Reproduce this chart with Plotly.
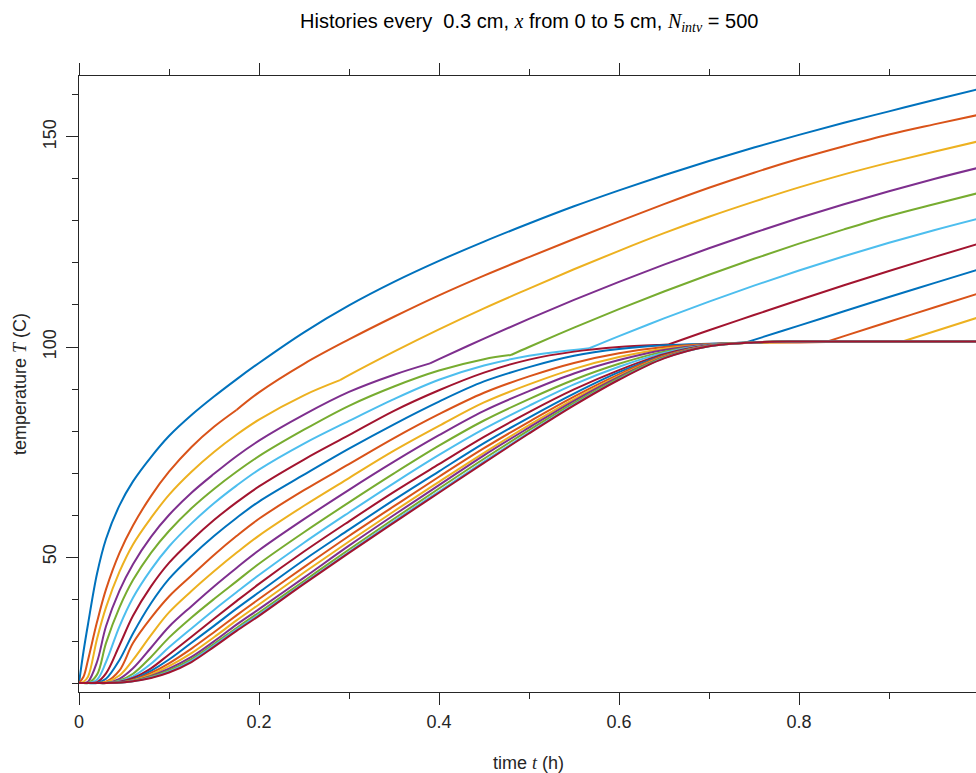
import plotly.graph_objects as go

# common time grid (h)
TIME = [0, 0.005, 0.01, 0.02, 0.03, 0.045, 0.06, 0.08, 0.1, 0.125, 0.15, 0.175, 0.2,
        0.25, 0.3, 0.35, 0.4, 0.45, 0.5, 0.55, 0.6, 0.65, 0.7, 0.75, 0.8,
        0.85, 0.9, 0.95, 1.0]

# temperature histories (C) at depths x = 0, 0.25, ..., 5 cm
T01 = [20, 27.5, 34, 46, 54.3, 62.3, 68, 73.8, 78.8, 83.8, 88.2, 92.3, 96.2, 103.5, 109.9, 115.5, 120.5, 125.1, 129.4, 133.5, 137.3, 140.9, 144.3, 147.5, 150.5, 153.4, 156.1, 158.8, 161.4]
T02 = [20, 21.5, 25.5, 34.5, 42.3, 51, 57.5, 64.5, 70.3, 76.2, 81.0, 85.0, 89.2, 96.0, 101.8, 107.2, 112.3, 117.0, 121.4, 125.7, 129.9, 134.0, 137.9, 141.5, 144.8, 147.8, 150.6, 153.0, 155.3]
T03 = [20, 20.3, 21.5, 30.5, 38.0, 46.5, 53.0, 59.3, 64.8, 70.3, 75.0, 79.1, 82.7, 88.5, 93.3, 98.9, 104.2, 109.2, 113.9, 118.5, 122.9, 127.1, 131.0, 134.6, 138.0, 141.1, 143.9, 146.5, 149.0]
T04 = [20, 20, 20.3, 25.0, 33.5, 42.0, 48.3, 54.8, 60.0, 65.3, 69.8, 74.0, 77.7, 83.9, 89.3, 93.4, 97.1, 102.0, 106.7, 111.2, 115.5, 119.6, 123.5, 127.2, 130.7, 134.0, 137.1, 140.0, 142.7]
T05 = [20, 20, 20, 22.0, 29.5, 38.0, 44.5, 51.0, 56.2, 61.6, 66.2, 70.3, 74.0, 80.3, 86, 90.6, 94.4, 97.1, 100.0, 104.6, 109.0, 113.2, 117.2, 121.0, 124.6, 128.0, 131.2, 134.0, 136.7]
T06 = [20, 20, 20, 20.8, 25.0, 33.5, 40.3, 47.0, 52.5, 58.0, 62.8, 67.0, 70.8, 77.0, 82.4, 87.6, 92.2, 95.6, 97.9, 99.3, 102.6, 106.8, 110.8, 114.6, 118.2, 121.6, 124.8, 127.8, 130.6]
T07 = [20, 20, 20, 20.2, 22.3, 29.0, 36.0, 43.0, 48.6, 54.0, 58.8, 63.0, 66.8, 73.2, 79.0, 84.8, 89.7, 93.9, 97.0, 98.9, 100.0, 100.55, 104.0, 107.6, 111.2, 114.7, 118.1, 121.4, 124.6]
T08 = [20, 20, 20, 20, 21.0, 25.5, 31.8, 39.0, 44.8, 50.2, 55.0, 59.3, 63.2, 69.6, 75.8, 81.6, 87.0, 91.8, 95.2, 97.9, 99.5, 100.4, 100.8, 101.7, 105.1, 108.5, 111.9, 115.2, 118.5]
T09 = [20, 20, 20, 20, 20.3, 23.0, 29.5, 35.5, 40.6, 45.6, 50.5, 55.0, 59.1, 65.9, 72.1, 78.3, 84.0, 89.1, 93.0, 96.2, 98.5, 100.0, 100.7, 101.0, 101.1, 102.6, 106.0, 109.4, 112.8]
T10 = [20, 20, 20, 20, 20.2, 21.8, 25.5, 31.4, 36.8, 41.9, 46.6, 51.0, 55.1, 62.2, 68.8, 75.3, 81.2, 86.8, 91.1, 94.8, 97.6, 99.6, 100.6, 101.0, 101.2, 101.3, 101.3, 103.7, 107.1]
T11 = [20, 20, 20, 20, 20, 21.0, 23.5, 28.4, 33.4, 38.3, 43.0, 47.4, 51.6, 59.0, 66.0, 72.7, 79.0, 84.8, 89.5, 93.7, 96.9, 99.3, 100.6, 101.1, 101.3, 101.3, 101.3, 101.3, 101.3]
T12 = [20, 20, 20, 20, 20, 20.6, 22.2, 26.2, 30.8, 35.6, 40.0, 44.2, 48.4, 55.9, 63.0, 69.9, 76.5, 82.5, 87.6, 92.2, 96.0, 98.9, 100.5, 101.1, 101.3, 101.3, 101.3, 101.3, 101.3]
T13 = [20, 20, 20, 20, 20, 20.4, 21.6, 24.6, 28.5, 33.0, 37.4, 41.6, 45.7, 53.4, 60.6, 67.6, 74.3, 80.5, 86.0, 91.1, 95.3, 98.6, 100.45, 101.1, 101.3, 101.3, 101.3, 101.3, 101.3]
T14 = [20, 20, 20, 20, 20, 20.3, 21.2, 23.5, 26.8, 31.0, 35.3, 39.5, 43.6, 51.3, 58.5, 65.5, 72.1, 78.6, 84.5, 89.9, 94.5, 98.3, 100.4, 101.1, 101.3, 101.3, 101.3, 101.3, 101.3]
T15 = [20, 20, 20, 20, 20, 20.2, 20.8, 22.9, 25.6, 29.6, 33.6, 37.7, 41.6, 49.3, 56.5, 63.6, 70.4, 77.1, 83.2, 88.9, 94.0, 98.0, 100.35, 101.1, 101.3, 101.3, 101.3, 101.3, 101.3]
T16 = [20, 20, 20, 20, 20, 20.1, 20.7, 22.4, 24.7, 28.2, 32.1, 36.1, 40.0, 47.6, 55.0, 62.1, 69.1, 75.9, 82.2, 88.2, 93.5, 97.9, 100.3, 101.1, 101.3, 101.3, 101.3, 101.3, 101.3]
T17 = [20, 20, 20, 20, 20, 20.1, 20.6, 22.0, 24.0, 27.1, 30.9, 34.9, 38.7, 46.3, 53.7, 60.9, 67.9, 74.8, 81.4, 87.6, 93.1, 97.7, 100.3, 101.1, 101.3, 101.3, 101.3, 101.3, 101.3]
T18 = [20, 20, 20, 20, 20, 20.1, 20.5, 21.7, 23.4, 26.2, 29.9, 33.9, 37.6, 45.1, 52.7, 60.0, 67.1, 74.2, 80.8, 87.2, 92.9, 97.6, 100.25, 101.1, 101.3, 101.3, 101.3, 101.3, 101.3]
T19 = [20, 20, 20, 20, 20, 20.1, 20.5, 21.5, 23.0, 25.7, 29.3, 33.1, 36.8, 44.3, 51.8, 59.1, 66.3, 73.4, 80.2, 86.7, 92.6, 97.5, 100.2, 101.1, 101.3, 101.3, 101.3, 101.3, 101.3]
T20 = [20, 20, 20, 20, 20, 20.1, 20.4, 21.3, 22.7, 25.3, 28.9, 32.7, 36.3, 43.8, 51.2, 58.5, 65.6, 72.7, 79.6, 86.3, 92.3, 97.35, 100.2, 101.1, 101.3, 101.3, 101.3, 101.3, 101.3]
T21 = [20, 20, 20, 20, 20, 20.1, 20.4, 21.2, 22.5, 25.0, 28.6, 32.4, 36.0, 43.6, 51.0, 58.2, 65.3, 72.4, 79.4, 86.1, 92.2, 97.3, 100.2, 101.1, 101.3, 101.3, 101.3, 101.3, 101.3]

HISTORIES = [T01, T02, T03, T04, T05, T06, T07, T08, T09, T10, T11,
             T12, T13, T14, T15, T16, T17, T18, T19, T20, T21]

# drying-front kinks (time h, temperature C); None = no kink before t = 1
KINK_TIME = [None, 0.175, 0.29, 0.39, 0.48, 0.567, 0.655, 0.74, 0.83, 0.915,
             None, None, None, None, None, None, None, None, None, None, None]
KINK_TEMP = [None, 85.0, 92.1, 96.1, 98.1, 99.7, 100.6, 101.0, 101.2, 101.3,
             None, None, None, None, None, None, None, None, None, None, None]

COLORS = ["#0072BD", "#D95319", "#EDB120", "#7E2F8E", "#77AC30", "#4DBEEE", "#A2142F"]

X_RANGE = [0, 0.99667]
Y_RANGE = [17.86, 164.52]

SERIF = "font-family:'Liberation Serif','Times New Roman',serif"
TITLE = ("Histories every\u00a0\u00a00.3 cm, "
         f"<span style=\"{SERIF}\"><i>x</i></span> from 0 to 5 cm, "
         f"<span style=\"{SERIF}\"><i>N</i><sub><i>intv</i></sub></span> = 500")
XLABEL = f"time <span style=\"{SERIF}\"><i>t</i></span> (h)"
YLABEL = f"temperature <span style=\"{SERIF}\"><i>T</i></span> (C)"

INK = "#262626"
FS = 18

fig = go.Figure()
for k, temps in enumerate(HISTORIES):
    color = COLORS[k % len(COLORS)]
    pts = list(zip(TIME, temps))
    tk = KINK_TIME[k]
    if tk is None:
        segs = [pts]
    else:
        pre = [p for p in pts if p[0] < tk] + [(tk, KINK_TEMP[k])]
        post = [(tk, KINK_TEMP[k])] + [p for p in pts if p[0] > tk]
        segs = [pre, post]
    for seg in segs:
        fig.add_trace(go.Scatter(
            x=[p[0] for p in seg], y=[p[1] for p in seg], mode="lines",
            line=dict(color=color, width=2, shape="spline", smoothing=1.0),
            hoverinfo="skip", showlegend=False))

# invisible trace to carry the top axis (minor ticks on the upper border)
fig.add_trace(go.Scatter(x=[0.5], y=[50], xaxis="x2", mode="markers",
                         marker=dict(opacity=0), hoverinfo="skip", showlegend=False))

fig.update_layout(
    width=976, height=773,
    margin=dict(l=79, r=0, t=76, b=81),
    plot_bgcolor="white", paper_bgcolor="white",
    font=dict(family="Liberation Sans, Arial, sans-serif", size=FS, color=INK),
    showlegend=False,
    xaxis=dict(range=X_RANGE, tickmode="linear", tick0=0, dtick=0.2,
               ticks="outside", ticklen=12, tickwidth=1, tickcolor=INK,
               showline=True, linecolor=INK, linewidth=1, mirror="ticks",
               showgrid=False, zeroline=False, ticklabelstandoff=1,
               minor=dict(tick0=0, dtick=0.1, ticks="outside", ticklen=6,
                          tickwidth=1, tickcolor=INK, showgrid=False)),
    xaxis2=dict(range=X_RANGE, overlaying="x", side="top", anchor="y",
                tickmode="linear", tick0=0.1, dtick=0.2, ticks="outside",
                ticklen=6, tickwidth=1, tickcolor=INK, showticklabels=False,
                showline=False, showgrid=False, zeroline=False),
    yaxis=dict(range=Y_RANGE, tickmode="linear", tick0=0, dtick=50,
               ticks="outside", ticklen=12, tickwidth=1, tickcolor=INK,
               showline=True, linecolor=INK, linewidth=1, mirror=False,
               showgrid=False, zeroline=False, tickangle=-90, ticklabelstandoff=3,
               minor=dict(tick0=0, dtick=10, ticks="outside", ticklen=6,
                          tickwidth=1, tickcolor=INK, showgrid=False)),
    annotations=[
        dict(text=TITLE, xref="paper", yref="paper", x=0.50167, y=1,
             xanchor="center", yanchor="middle", yshift=54, showarrow=False,
             font=dict(size=20, color="black")),
        dict(text=XLABEL, xref="paper", yref="paper", x=0.50167, y=0,
             xanchor="center", yanchor="middle", yshift=-71, showarrow=False,
             font=dict(size=FS, color=INK)),
        dict(text=YLABEL, xref="paper", yref="paper", x=0, y=0.5,
             xanchor="center", yanchor="middle", xshift=-59, textangle=-90,
             showarrow=False, font=dict(size=FS, color=INK)),
    ],
)

fig.write_html("out.html", config={"displayModeBar": False},
               post_script="document.body.style.margin='0px';")
